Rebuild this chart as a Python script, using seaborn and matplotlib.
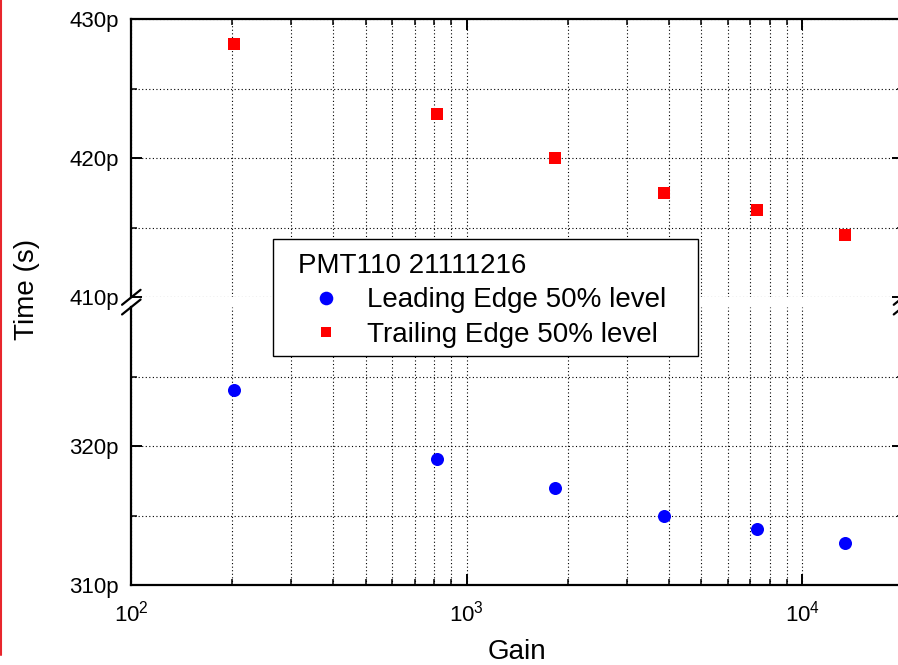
import numpy as np
import pandas as pd
import seaborn as sns
import matplotlib
matplotlib.use("Agg")
import matplotlib.pyplot as plt
from matplotlib.lines import Line2D
from matplotlib.patches import Rectangle
from matplotlib.ticker import LogLocator, FixedLocator, FuncFormatter, NullFormatter

# ---- data ----
gain = [203, 813, 1832, 3865, 7325, 13430]
leading_ps = [324.0, 319.1, 317.0, 315.0, 314.0, 313.0]
trailing_ps = [428.2, 423.2, 420.0, 417.5, 416.3, 414.5]
series_names = ["Leading Edge 50% level", "Trailing Edge 50% level"]
legend_title = "PMT110 21111216"
upper_ticks = [410, 420, 430]
lower_ticks = [310, 320]

df = pd.concat([
    pd.DataFrame({"gain": gain, "time": leading_ps, "series": series_names[0]}),
    pd.DataFrame({"gain": gain, "time": trailing_ps, "series": series_names[1]}),
])

sns.set_style("white")
plt.rcParams["font.family"] = ["Liberation Sans", "DejaVu Sans"]
plt.rcParams["mathtext.default"] = "regular"
for k in ("text.color", "axes.labelcolor", "xtick.color", "ytick.color", "axes.edgecolor"):
    plt.rcParams[k] = "black"

W, H = 898, 665
fig = plt.figure(figsize=(W / 100, H / 100), dpi=100)

def fx(px):
    return px / W

def fy(py):
    return 1 - py / H

left, right = 131.3, 903.0
ax_up = fig.add_axes([fx(left), fy(297.3), fx(right - left), (297.3 - 19) / H])
ax_lo = fig.add_axes([fx(left), fy(585), fx(right - left), (585 - 307) / H])

palette = {series_names[0]: "#0000ff", series_names[1]: "#ff0000"}

for ax in (ax_up, ax_lo):
    sub = df[df["series"] == series_names[0]]
    sns.scatterplot(data=sub, x="gain", y="time", color=palette[series_names[0]],
                    marker="o", s=88, linewidth=0, ax=ax, legend=False, zorder=3)
    sub = df[df["series"] == series_names[1]]
    sns.scatterplot(data=sub, x="gain", y="time", color=palette[series_names[1]],
                    marker="s", s=70, linewidth=0, ax=ax, legend=False, zorder=3)
    ax.set_xscale("log")
    ax.set_xlim(100, 2e4)
    ax.set_xlabel("")
    ax.set_ylabel("")
    ax.xaxis.set_major_locator(LogLocator(base=10, numticks=10))
    ax.xaxis.set_minor_locator(LogLocator(base=10, subs=np.arange(2, 10), numticks=20))
    ax.xaxis.set_minor_formatter(NullFormatter())
    ax.grid(True, which="both", axis="both", color="black", linestyle=(0, (1, 2.2)), linewidth=0.8)
    ax.set_axisbelow(True)
    for sp in ax.spines.values():
        sp.set_linewidth(1.6)
        sp.set_color("black")
    ax.tick_params(which="major", direction="in", length=8, width=1.4, labelsize=16,
                   left=True, right=True, colors="black")
    ax.tick_params(which="minor", direction="in", length=4, width=1.1,
                   left=True, right=True, colors="black")
    ax.tick_params(axis="y", pad=9)
    ax.tick_params(axis="x", pad=11)

ax_up.set_ylim(410, 430)
ax_up.yaxis.set_major_locator(FixedLocator(upper_ticks))
ax_up.yaxis.set_minor_locator(FixedLocator([415, 425]))
ax_up.spines["bottom"].set_visible(False)
ax_up.tick_params(axis="x", which="both", bottom=False, top=True, labelbottom=False)

ax_lo.set_ylim(310, 330)
ax_lo.yaxis.set_major_locator(FixedLocator(lower_ticks))
ax_lo.yaxis.set_minor_locator(FixedLocator([315, 325]))
ax_lo.spines["top"].set_visible(False)
ax_lo.tick_params(axis="x", which="both", bottom=True, top=False)

pfmt = FuncFormatter(lambda v, pos: f"{v:.0f}p")
ax_up.yaxis.set_major_formatter(pfmt)
ax_lo.yaxis.set_major_formatter(pfmt)
ax_lo.xaxis.set_major_formatter(FuncFormatter(lambda v, pos: r"$\mathregular{10^{%d}}$" % round(np.log10(v))))

ax_lo.set_xlabel("Gain", fontsize=20, labelpad=9)
fig.text(fx(27), fy(289), "Time (s)", rotation=90, ha="center", va="center", fontsize=20)

# break marks
d = 0.012
kw = dict(color="black", linewidth=1.6, clip_on=False)
for ax, yv in ((ax_up, 0), (ax_lo, 1)):
    for xv in (0, 1):
        ax.plot([xv - d, xv + d], [yv - d * 2.6 * 0.86, yv + d * 2.6 * 0.86],
                transform=ax.transAxes, **kw)

# legend
handles = [
    Line2D([], [], linestyle="none", marker="o", markersize=9.8, color="#0000ff", markeredgewidth=0),
    Line2D([], [], linestyle="none", marker="s", markersize=7.8, color="#ff0000", markeredgewidth=0),
]
frame = Rectangle((fx(272.7), fy(356)), fx(697.7 - 272.7), (356 - 239) / H,
                  transform=fig.transFigure, facecolor="white", edgecolor="black",
                  linewidth=1.0, zorder=2)
fig.patches.append(frame)
leg = fig.legend(handles, series_names, title=legend_title, loc="upper left",
                 bbox_to_anchor=(fx(298), fy(253)), frameon=False, fontsize=20,
                 title_fontsize=20, alignment="left", handlelength=2.0,
                 handletextpad=0.5, labelspacing=0.3, borderpad=0, borderaxespad=0)
leg.set_zorder(5)

# red line at left edge
fig.add_artist(Line2D([fx(1), fx(1)], [1, fy(655)], transform=fig.transFigure,
                      color="#e8262d", linewidth=1.5))

fig.savefig("out.png", dpi=100)
